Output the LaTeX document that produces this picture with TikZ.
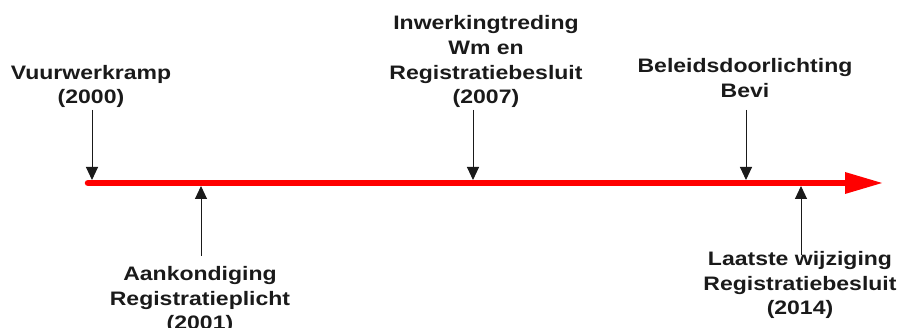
\documentclass[tikz,border=0pt]{standalone}
\usepackage{fontspec}
\usetikzlibrary{arrows.meta}
\newfontfamily\labfont{Liberation Sans}[FakeStretch=1.18]
\definecolor{txt}{HTML}{1A1A1A}
\definecolor{tl}{HTML}{FF0000}
\tikzset{
  lab/.style={font=\labfont\bfseries\fontsize{19.5}{24.7}\selectfont, text=txt, align=center, inner sep=0pt},
  pin/.style={draw=txt!85, line width=1pt, -{Triangle[width=12pt,length=13pt]}, color=txt},
}
\begin{document}
\begin{tikzpicture}[x=1pt,y=1pt]
\useasboundingbox (0,0) rectangle (900,328);
% timeline
\coordinate (ls) at (88,145);
\coordinate (le) at (850,145);
\coordinate (ht) at (882,145);
\coordinate (hu) at (845,156);
\coordinate (hd) at (845,134);
\draw[tl, line width=6.5pt, line cap=round] (ls) -- (le);
\fill[tl] (hu) -- (ht) -- (hd) -- cycle;
% tips
\coordinate (c1) at (92,148);
\coordinate (c2) at (201,142);
\coordinate (c3) at (473,148);
\coordinate (c4) at (746,148);
\coordinate (c5) at (801,142);
% starts
\coordinate (s1) at (92,218);
\coordinate (s2) at (201,72);
\coordinate (s3) at (473,218);
\coordinate (s4) at (746,218);
\coordinate (s5) at (801,73);
% labels
\node[lab, anchor=south] (t1) at (91,220) {Vuurwerkramp\\(2000)};
\node[lab, anchor=north] (t2) at (200,62) {Aankondiging\\Registratieplicht\\(2001)};
\node[lab, anchor=south] (t3) at (486,220) {Inwerkingtreding\\Wm en\\Registratiebesluit\\(2007)};
\node[lab, anchor=south] (t4) at (745,230) {Beleidsdoorlichting\\Bevi};
\node[lab, anchor=north] (t5) at (800,77) {Laatste wijziging\\Registratiebesluit\\(2014)};
% pins
\draw[pin] (s1) -- (c1);
\draw[pin] (s2) -- (c2);
\draw[pin] (s3) -- (c3);
\draw[pin] (s4) -- (c4);
\draw[pin] (s5) -- (c5);
\end{tikzpicture}
\end{document}
